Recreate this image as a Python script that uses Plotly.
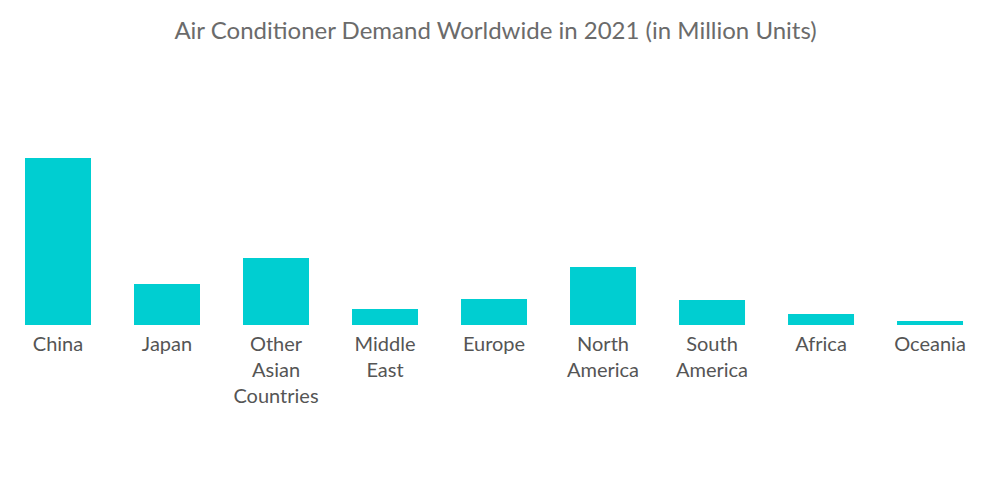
import plotly.graph_objects as go

categories = ["China", "Japan", "Other<br>Asian<br>Countries", "Middle<br>East", "Europe",
              "North<br>America", "South<br>America", "Africa", "Oceania"]
values = [55.0, 13.5, 22.1, 5.3, 8.6, 19.1, 8.2, 3.6, 1.3]

fig = go.Figure(go.Bar(x=categories, y=values, marker=dict(color="#00CED1", line=dict(width=0)),
                       hoverinfo="x+y"))

fig.update_layout(
    width=992, height=496,
    margin=dict(l=0, r=0, t=150, b=179, pad=0),
    paper_bgcolor="white", plot_bgcolor="white",
    bargap=0.3945,
    showlegend=False,
    title=dict(text="Air Conditioner Demand Worldwide in 2021 (in Million Units)",
               x=0.4915, xanchor="center", y=1 - 23 / 496, yanchor="middle",
               font=dict(family="Lato", size=24, color="#6b6b6b")),
    font=dict(family="Lato", size=20, color="#555555"),
)
fig.update_xaxes(showline=False, showgrid=False, zeroline=False, ticks="",
                 range=[-0.4587, 8.642],
                 tickfont=dict(family="Lato", size=20, color="#555555"), ticklabelstandoff=5)
fig.update_yaxes(visible=False, range=[0, 55], showgrid=False, zeroline=False)

fig.write_html("out.html")
